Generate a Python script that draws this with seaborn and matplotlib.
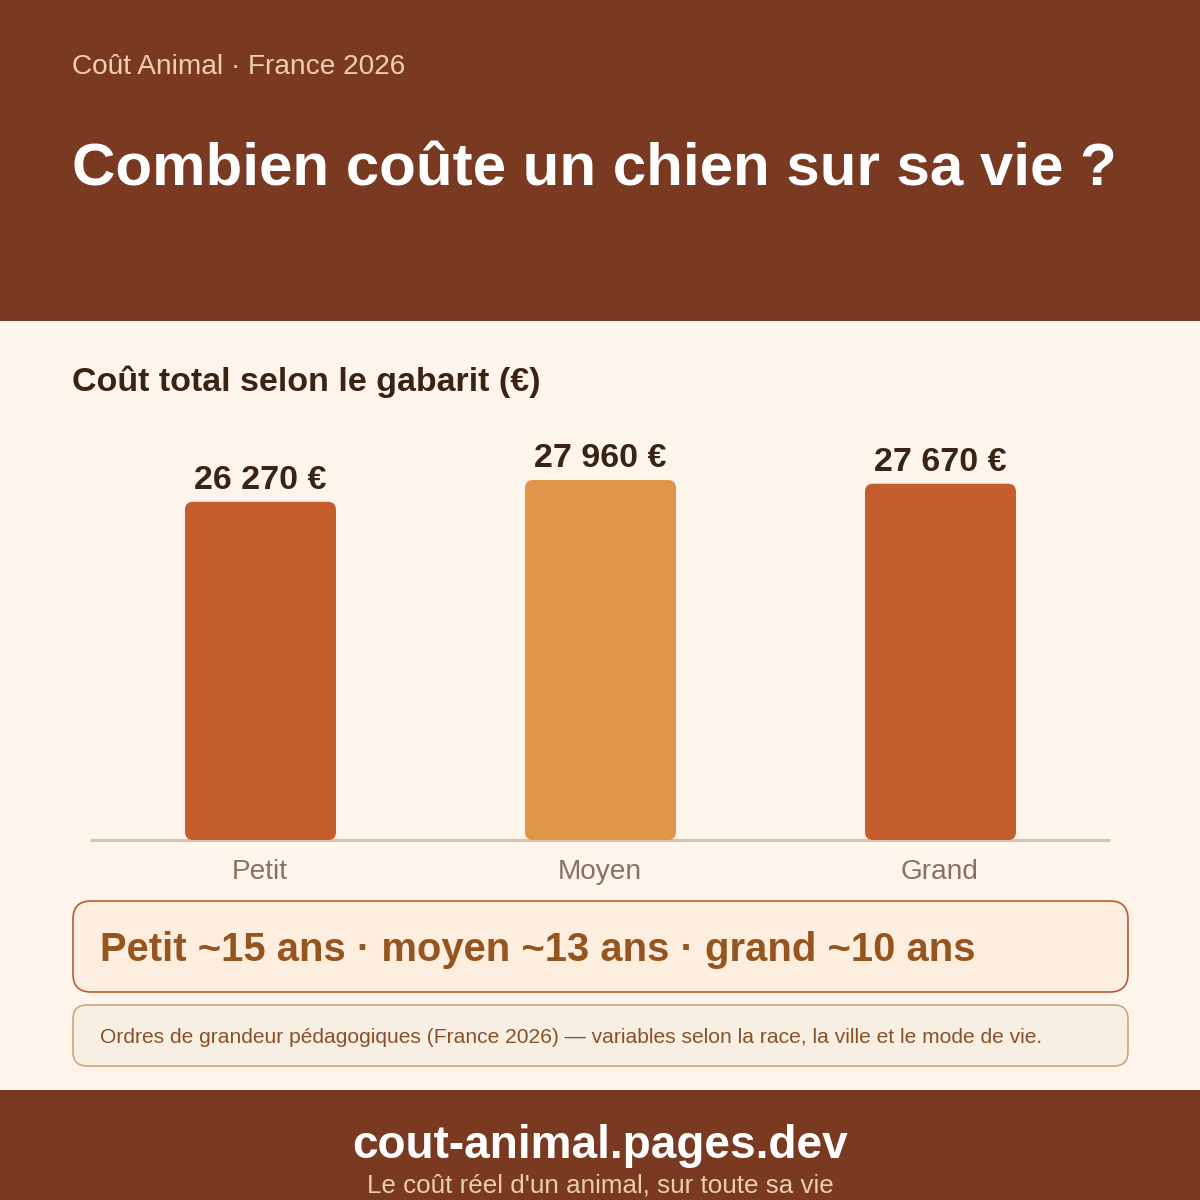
import pandas as pd
import seaborn as sns
import matplotlib.pyplot as plt
from matplotlib.patches import FancyBboxPatch, Rectangle

# -----------------------------------------------------------------------------
# Data
# -----------------------------------------------------------------------------
CATEGORIES = ["Petit", "Moyen", "Grand"]
TOTAL_COST = [26270, 27960, 27670]
BAR_COLORS = ["#C45C2C", "#E0964A", "#C45C2C"]

EYEBROW = "Coût Animal · France 2026"
TITLE = "Combien coûte un chien sur sa vie ?"
SUBTITLE = "Coût total selon le gabarit (€)"
CALLOUT = "Petit ~15 ans · moyen ~13 ans · grand ~10 ans"
NOTE = "Ordres de grandeur pédagogiques (France 2026) — variables selon la race, la ville et le mode de vie."
FOOTER_URL = "cout-animal.pages.dev"
FOOTER_TAG = "Le coût réel d'un animal, sur toute sa vie"

# -----------------------------------------------------------------------------
# Colours
# -----------------------------------------------------------------------------
BROWN = "#7A3A22"
CREAM = "#FDF4EC"
DARK = "#3B2314"
AXIS_LINE = "#D4C4B0"
TICK = "#8B7060"

def px(size):
    """Font size in figure pixels to points (dpi 100)."""
    return size * 0.72

def main():
    sns.set_theme(style="white")
    plt.rcParams["font.family"] = ["Liberation Sans", "DejaVu Sans"]

    fig = plt.figure(figsize=(12, 12), dpi=100, facecolor=CREAM)

    # Page furniture, drawn in pixel coordinates
    page = fig.add_axes([0, 0, 1, 1], zorder=0)
    page.set_xlim(0, 1200)
    page.set_ylim(1200, 0)
    page.axis("off")

    page.add_patch(Rectangle((0, 0), 1200, 321, fc=BROWN, ec="none"))
    page.add_patch(Rectangle((0, 1090), 1200, 110, fc=BROWN, ec="none"))
    page.add_patch(FancyBboxPatch((73, 901), 1055, 91, boxstyle="round,pad=0,rounding_size=18",
                                  fc="#FEEEE0", ec="#B85C30", lw=1.2))
    page.add_patch(FancyBboxPatch((73, 1005), 1055, 61, boxstyle="round,pad=0,rounding_size=14",
                                  fc="#F8EFE4", ec="#CFA678", lw=1.2))

    page.text(72, 74, EYEBROW, color="#F0CDB4", fontsize=px(28), va="baseline")
    page.text(72, 185, TITLE, color="white", fontsize=px(60), fontweight="bold", va="baseline")
    page.text(72, 391, SUBTITLE, color=DARK, fontsize=px(34), fontweight="bold", va="baseline")
    page.text(100, 961, CALLOUT, color="#96541F", fontsize=px(40), fontweight="bold", va="baseline")
    page.text(100, 1043, NOTE, color="#8B5028", fontsize=px(21), va="baseline")
    page.text(600, 1158, FOOTER_URL, color="white", fontsize=px(46), fontweight="bold",
              ha="center", va="baseline")
    page.text(600, 1192, FOOTER_TAG, color="#EBCDB4", fontsize=px(26), ha="center", va="baseline")

    # Bar chart: plot area spans x 90-1110 and y 440-840 in pixels
    ax = fig.add_axes([90 / 1200, 360 / 1200, 1020 / 1200, 400 / 1200], zorder=1)
    ax.patch.set_alpha(0)

    df = pd.DataFrame({"gabarit": CATEGORIES, "cout": TOTAL_COST})
    sns.barplot(data=df, x="gabarit", y="cout", hue="gabarit", palette=BAR_COLORS,
                width=0.444, legend=False, saturation=1, ax=ax)

    ax.set_xlim(-0.5, 2.5)
    ax.set_ylim(0, max(TOTAL_COST) / 0.9)
    ax.set_xlabel("")
    ax.set_ylabel("")
    ax.set_yticks([])
    ax.tick_params(axis="x", length=0, pad=14, labelsize=px(28), labelcolor=TICK)

    sns.despine(ax=ax, left=True)
    ax.spines["bottom"].set_color(AXIS_LINE)
    ax.spines["bottom"].set_linewidth(2.2)
    ax.spines["bottom"].set_capstyle("butt")

    # Swap the square bars for rounded ones, same extent
    x_per_px = 3 / 1020
    y_per_px = ax.get_ylim()[1] / 400
    radius = 8 * x_per_px
    for bar, value in zip(list(ax.patches), TOTAL_COST):
        rounded = FancyBboxPatch((bar.get_x() + 0.5 * x_per_px, bar.get_y()), bar.get_width(), bar.get_height(),
                                 boxstyle=f"round,pad=0,rounding_size={radius}",
                                 mutation_aspect=y_per_px / x_per_px,
                                 fc=bar.get_facecolor(), ec="none", zorder=3, clip_on=False)
        ax.add_patch(rounded)
        bar.set_visible(False)
        label = f"{value:,}".replace(",", " ") + " €"
        ax.annotate(label, (bar.get_x() + bar.get_width() / 2, value), xytext=(0, 9.2),
                    textcoords="offset points", ha="center", va="baseline",
                    color=DARK, fontsize=px(34), fontweight="bold")

    fig.savefig("out.png", dpi=100, facecolor=CREAM)

if __name__ == "__main__":
    main()
